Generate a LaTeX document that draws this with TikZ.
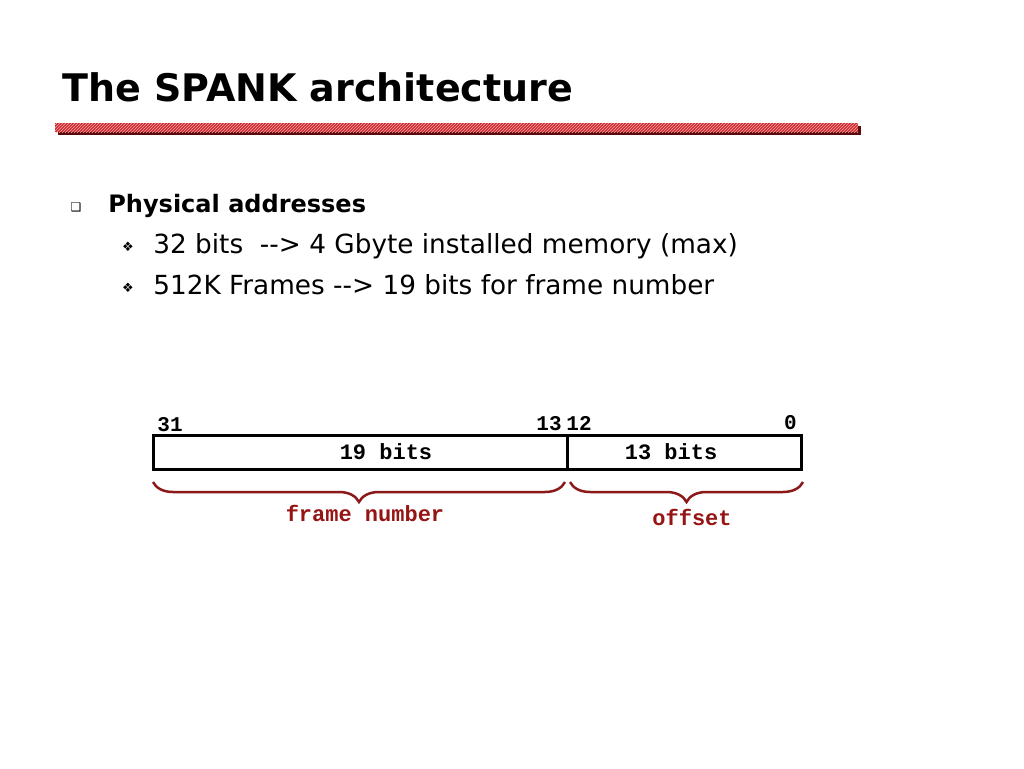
\documentclass[tikz,border=0pt]{standalone}
\usepackage{fontspec}
\setmainfont{DejaVu Sans}[Ligatures=TeXOff]
\setmonofont{Liberation Mono}
\newfontfamily\symfont{DejaVu Sans}
\usetikzlibrary{calc}
\usetikzlibrary{patterns}
\usetikzlibrary{decorations.pathreplacing}
\definecolor{barred}{RGB}{205,45,50}
\definecolor{barpink}{RGB}{250,165,165}
\definecolor{bardark}{RGB}{90,10,10}
\definecolor{bracered}{RGB}{140,25,25}
\definecolor{lblred}{RGB}{150,20,20}

\begin{document}
\begin{tikzpicture}[x=1pt, y=-1pt, thick,
  field/.style={draw, line width=3pt, outer sep=0pt, minimum height=34pt, inner sep=0pt},
  bitno/.style={inner sep=0pt, font=\ttfamily\bfseries\fontsize{21}{24}\selectfont},
  fieldtxt/.style={inner sep=0pt, font=\ttfamily\bfseries\fontsize{22}{24}\selectfont},
  brc/.style={bracered, line width=2.5pt, decorate, decoration={brace, mirror, amplitude=20pt}},
  brclbl/.style={lblred, inner sep=0pt, anchor=base, font=\ttfamily\bfseries\fontsize{22}{24}\selectfont},
  line/.style={anchor=base west, inner sep=0pt, font=\fontsize{26.3}{30}\selectfont}]
\useasboundingbox[fill=white] (0,0) rectangle (1024,768);
\node (title) [anchor=base west, inner sep=0pt, font=\bfseries\fontsize{38}{44}\selectfont] at (62,101) {The SPANK architecture};
\fill[bardark] (58,126) rectangle (861,135);
\fill[barred] (55,123) rectangle (858,132);
\fill[pattern=north east lines, pattern color=barpink] (55,123) rectangle (858,132);
\node (sq) [inner sep=0pt, font=\symfont\fontsize{12}{12}\selectfont] at (76,207) {❑};
\node (pa) [anchor=base west, inner sep=0pt, font=\bfseries\fontsize{24}{28}\selectfont] at (108,212) {Physical addresses};
\node (d1) [inner sep=0pt, font=\symfont\fontsize{13}{13}\selectfont] at (128,247) {❖};
\node (l1) [line] at (153,253) {32 bits\ \ --> 4 Gbyte installed memory (max)};
\node (d2) [inner sep=0pt, font=\symfont\fontsize{13}{13}\selectfont] at (128,288) {❖};
\node (l2) [line] at (153,294) {512K Frames --> 19 bits for frame number};
\node (frame) [field, minimum width=414pt] at (360,452) {};
\node (offs) [field, minimum width=234pt, anchor=west] at (frame.east) {};
\node (t19) [fieldtxt] at ([xshift=26pt]frame.center) {19 bits};
\node (t13) [fieldtxt] at ([xshift=-13pt]offs.center) {13 bits};
\node (b31) [bitno, anchor=base west] at ([xshift=4pt,yshift=4pt]frame.north west) {31};
\node (b13) [bitno, anchor=base east] at ([xshift=-5pt,yshift=5pt]frame.north east) {13};
\node (b12) [bitno, anchor=base west] at ([xshift=-1pt,yshift=5pt]offs.north west) {12};
\node (b0) [bitno, anchor=base east] at ([xshift=-4pt,yshift=6pt]offs.north east) {0};
\draw[brc] ([yshift=-13pt]frame.south west) -- ([xshift=-2pt,yshift=-13pt]frame.south east);
\draw[brc] ([xshift=3pt,yshift=-13pt]offs.south west) -- ([xshift=2pt,yshift=-13pt]offs.south east);
\node (fnlbl) [brclbl] at (365,521) {frame number};
\node (offlbl) [brclbl] at (692,525) {offset};
\end{tikzpicture}
\end{document}
